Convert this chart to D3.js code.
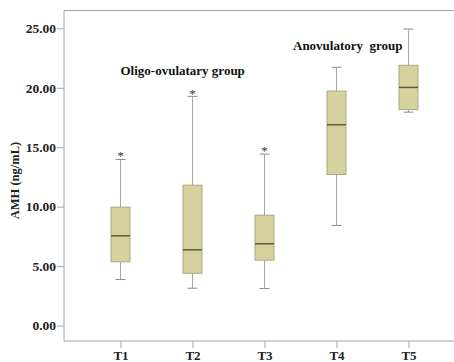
<!DOCTYPE html>
<html>
<head>
<meta charset="utf-8">
<script src="https://cdn.jsdelivr.net/npm/d3@7"></script>
<style>
  html, body { margin: 0; padding: 0; background: #fff; }
  svg { display: block; }
</style>
</head>
<body>
<div id="chart"></div>
<script>
// AMH par groupe : boîtes à moustaches style SPSS
const groups = ["T1", "T2", "T3", "T4", "T5"]
const whiskerLow = [3.87, 3.14, 3.11, 8.42, 17.95]
const q1 = [5.36, 4.40, 5.50, 12.71, 18.16]
const median = [7.55, 6.37, 6.88, 16.89, 20.03]
const q3 = [9.96, 11.81, 9.28, 19.72, 21.89]
const whiskerHigh = [13.97, 19.28, 14.42, 21.72, 24.94]
const outliers = [[14.4], [19.64], [14.87], [], []]
const yTicks = [0, 5, 10, 15, 20, 25]

const W = 454, H = 362
const serif = "'Liberation Serif', 'Times New Roman', serif"

const svg = d3.select("#chart").append("svg")
  .attr("width", W).attr("height", H)

const x = d3.scalePoint().domain(groups).range([64, 465]).padding(0.785)
const y = d3.scaleLinear().domain([-1.3, 26.5]).range([341, 10.5])

const axisColor = "#a6a6a6"
const boxW = 19

// cadre (haut + bas + gauche), coupé à droite par la fenêtre
svg.append("path")
  .attr("d", `M${x.range()[1]},${y(26.5)}H64V${y(-1.3)}H${x.range()[1]}`)
  .attr("fill", "none").attr("stroke", axisColor).attr("stroke-width", 1)

// axe Y
const yAxis = svg.append("g").attr("transform", "translate(64,0)")
  .call(d3.axisLeft(y).tickValues(yTicks).tickFormat(d3.format(".2f")).tickSize(7).tickSizeOuter(0))
yAxis.select(".domain").remove()
yAxis.selectAll(".tick line").attr("stroke", axisColor)
yAxis.selectAll(".tick text")
  .attr("fill", "#222").attr("font-family", serif).attr("font-weight", "bold")
  .attr("font-size", 13.5).attr("x", -8)

// axe X
const xAxis = svg.append("g").attr("transform", `translate(0,${y(-1.3)})`)
  .call(d3.axisBottom(x).tickSize(7).tickSizeOuter(0))
xAxis.select(".domain").remove()
xAxis.selectAll(".tick line").attr("stroke", axisColor)
xAxis.selectAll(".tick text")
  .attr("fill", "#222").attr("font-family", serif).attr("font-weight", "bold")
  .attr("font-size", 13).attr("y", 10)

// titre axe Y
svg.append("text")
  .attr("transform", `translate(19,${y(12.2)}) rotate(-90)`)
  .attr("text-anchor", "middle")
  .attr("font-family", serif).attr("font-weight", "bold").attr("font-size", 12.5)
  .attr("fill", "#222")
  .text("AMH (ng/mL)")

const g = svg.append("g")
const boxes = g.selectAll("g.box").data(groups).join("g").attr("class", "box")

// moustaches
boxes.append("line")
  .attr("x1", (d) => x(d)).attr("x2", (d) => x(d))
  .attr("y1", (d, i) => y(whiskerHigh[i])).attr("y2", (d, i) => y(q3[i]))
  .attr("stroke", axisColor)
boxes.append("line")
  .attr("x1", (d) => x(d)).attr("x2", (d) => x(d))
  .attr("y1", (d, i) => y(whiskerLow[i])).attr("y2", (d, i) => y(q1[i]))
  .attr("stroke", axisColor)
boxes.append("line")
  .attr("x1", (d) => x(d) - 5).attr("x2", (d) => x(d) + 5)
  .attr("y1", (d, i) => y(whiskerHigh[i])).attr("y2", (d, i) => y(whiskerHigh[i]))
  .attr("stroke", "#8c8c8c")
boxes.append("line")
  .attr("x1", (d) => x(d) - 5).attr("x2", (d) => x(d) + 5)
  .attr("y1", (d, i) => y(whiskerLow[i])).attr("y2", (d, i) => y(whiskerLow[i]))
  .attr("stroke", "#8c8c8c")

// boîtes
boxes.append("rect")
  .attr("x", (d) => x(d) - boxW / 2).attr("width", boxW)
  .attr("y", (d, i) => y(q3[i])).attr("height", (d, i) => y(q1[i]) - y(q3[i]))
  .attr("fill", "#d6d19d").attr("stroke", "#aba784").attr("stroke-width", 1)

// médianes
boxes.append("line")
  .attr("x1", (d) => x(d) - boxW / 2).attr("x2", (d) => x(d) + boxW / 2)
  .attr("y1", (d, i) => y(median[i])).attr("y2", (d, i) => y(median[i]))
  .attr("stroke", "#5f5a3a").attr("stroke-width", 1.5)

// valeurs extrêmes (*)
boxes.each(function (d, i) {
  d3.select(this).selectAll("text.out").data(outliers[i]).join("text")
    .attr("class", "out")
    .attr("x", x(d)).attr("y", (v) => y(v) + 6)
    .attr("text-anchor", "middle")
    .attr("font-family", serif).attr("font-size", 13).attr("fill", "#333")
    .text("*")
})

// annotations de groupes
svg.append("text")
  .attr("x", x("T1")).attr("y", y(21.04))
  .attr("font-family", serif).attr("font-weight", "bold").attr("font-size", 13)
  .attr("fill", "#111")
  .text("Oligo-ovulatary group")
svg.append("text")
  .attr("x", 293).attr("y", y(23.2))
  .attr("font-family", serif).attr("font-weight", "bold").attr("font-size", 13)
  .attr("fill", "#111").attr("xml:space", "preserve").style("white-space", "pre")
  .text("Anovulatory  group")
</script>
</body>
</html>
